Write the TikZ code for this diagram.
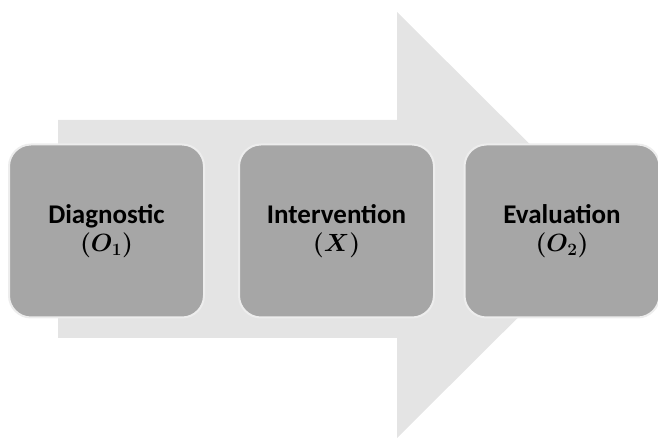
\documentclass[tikz,border=0pt]{standalone}
\usepackage{fontspec}
\usepackage{amsmath,bm}
\setmainfont{Carlito}
\definecolor{arrowfill}{HTML}{E4E4E4}
\definecolor{boxfill}{HTML}{A6A6A6}
\definecolor{boxline}{HTML}{EDEDED}
\begin{document}
\begin{tikzpicture}[x=1pt,y=1pt,
  stagebox/.style={rectangle, rounded corners=22pt, fill=boxfill, draw=boxline, line width=2pt,
    minimum width=195pt, minimum height=173pt, align=center, inner sep=0pt,
    font=\fontsize{27}{30}\selectfont\bfseries}]
\useasboundingbox (0,0) rectangle (658,441);
\begin{scope}
\clip (0,0) rectangle (658,441);
% big background arrow
\fill[arrowfill] (58,103) -- (397,103) -- (397,3) -- (611,216) -- (397,429) -- (397,321) -- (58,321) -- cycle;
\node[stagebox] (diag) at (106.5,210) {Diagnostic\\[-2pt]$\bm{(O_1)}$};
\node[stagebox] (inter) at (336.5,210) {Intervention\\[-2pt]$\bm{(X)}$};
\node[stagebox] (eval) at (562,210) {Evaluation\\[-2pt]$\bm{(O_2)}$};
\end{scope}
\end{tikzpicture}
\end{document}
